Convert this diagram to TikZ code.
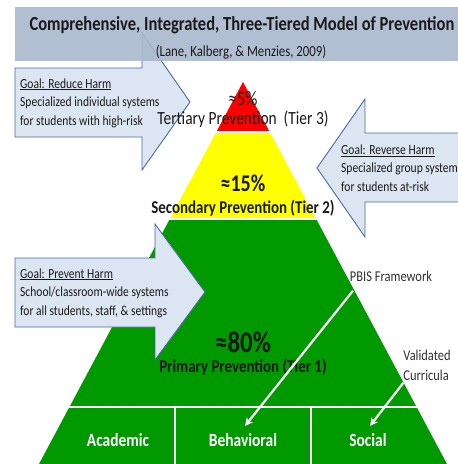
\documentclass[tikz,border=0pt]{standalone}
\usepackage{fontspec}
\setmainfont{Carlito}[FakeStretch=0.83]
\usetikzlibrary{arrows.meta}
\definecolor{BarGray}{RGB}{170,184,205}
\definecolor{ArrowFill}{RGB}{220,230,242}
\definecolor{ArrowLine}{RGB}{72,108,158}
\definecolor{PyrGreen}{RGB}{0,153,0}
\definecolor{PyrYellow}{RGB}{255,255,0}
\definecolor{PyrRed}{RGB}{255,0,0}
\definecolor{TextDark}{RGB}{25,25,25}

\begin{document}
\begin{tikzpicture}[x=1pt,y=-1pt,
    goalbox/.style={fill=ArrowFill,draw=ArrowLine,line width=0.9pt},
    goaltext/.style={anchor=west,align=left,text=TextDark,inner sep=2pt,font=\fontsize{13.9}{18.5}\selectfont},
    tiertext/.style={text=TextDark,inner sep=0pt},
    colhead/.style={text=white,font=\fontsize{18.6}{20}\selectfont\bfseries},
    sidetext/.style={text=TextDark!90,align=left,font=\fontsize{15}{20}\selectfont},
    wharrow/.style={white,line width=2.2pt,-{Stealth[length=8pt,width=8pt]}}]
    \useasboundingbox (0,0) rectangle (458,464);
    % pyramid
    \fill[PyrGreen] (39,464) -- (169.8,219) -- (316.2,219) -- (447,464) -- cycle;
    \fill[PyrYellow] (169.8,219) -- (216.3,132) -- (269.7,132) -- (316.2,219) -- cycle;
    \fill[PyrRed] (216.3,132) -- (243,82) -- (269.7,132) -- cycle;
    \draw[white,line width=2pt] (160,132) -- (330,132) (150,219) -- (340,219);
    \draw[white,line width=1.5pt] (69.4,407) -- (416.6,407) (175,407) -- (175,464) (311,407) -- (311,464);
    % goal arrows
    \draw[goalbox] (15,68) -- (142,68) -- (142,33) -- (190,102) -- (142,170) -- (142,137) -- (15,137) -- cycle;
    \draw[goalbox] (462,133) -- (365,133) -- (365,99) -- (317,168) -- (365,237) -- (365,202) -- (462,202) -- cycle;
    \draw[goalbox] (15,258) -- (155,258) -- (155,224) -- (205,292) -- (155,360) -- (155,327) -- (15,327) -- cycle;
    \node[goaltext] (reduce) at (18,103) {\underline{Goal: Reduce Harm}\\Specialized individual systems\\for students with high-risk};
    \node[goaltext] (reverse) at (339,168) {\underline{Goal: Reverse Harm}\\Specialized group system\\for students at-risk};
    \node[goaltext] (prevent) at (18,293) {\underline{Goal: Prevent Harm}\\School/classroom-wide systems\\for all students, staff, \& settings};
    % tiers
    \node[tiertext,font=\fontsize{20.4}{22}\selectfont] (pct3) at (243,99) {≈5\%};
    \node[tiertext,font=\fontsize{18.6}{20}\selectfont] (tier3) at (243,119) {Tertiary Prevention\ \ (Tier 3)};
    \node[tiertext,font=\fontsize{24}{26}\selectfont\bfseries] (pct2) at (243,183) {≈15\%};
    \node[tiertext,font=\fontsize{18}{20}\selectfont\bfseries] (tier2) at (243,208) {Secondary Prevention (Tier 2)};
    \node[tiertext,font=\fontsize{30}{32}\selectfont\bfseries] (pct1) at (243,342) {≈80\%};
    \node[tiertext,font=\fontsize{18}{20}\selectfont\bfseries] (tier1) at (243,367) {Primary Prevention (Tier 1)};
    \node[colhead] (acad) at (118,440) {Academic};
    \node[colhead] (behav) at (243,440) {Behavioral};
    \node[colhead] (social) at (368,440) {Social};
    % side labels
    \node[sidetext] (pbis) at (391,276) {PBIS Framework};
    \node[sidetext] (valid) at (427,365) {Validated\\Curricula};
    \draw[wharrow] ([shift={(6.5pt,-6pt)}]pbis.south west) -- ([shift={(2pt,4pt)}]behav.north);
    \draw[wharrow] ([shift={(3.5pt,1pt)}]valid.south west) -- ([shift={(2pt,4pt)}]social.north);
    % title
    \fill[BarGray,fill opacity=0.9] (15,7) rectangle (458,61);
    \node[text=TextDark,font=\fontsize{19.9}{22}\selectfont\bfseries] (title) at (242,25) {Comprehensive, Integrated, Three-Tiered Model of Prevention};
    \node[text=TextDark,font=\fontsize{15.4}{17}\selectfont] (cite) at (241,52) {(Lane, Kalberg, \& Menzies, 2009)};
\end{tikzpicture}
\end{document}
